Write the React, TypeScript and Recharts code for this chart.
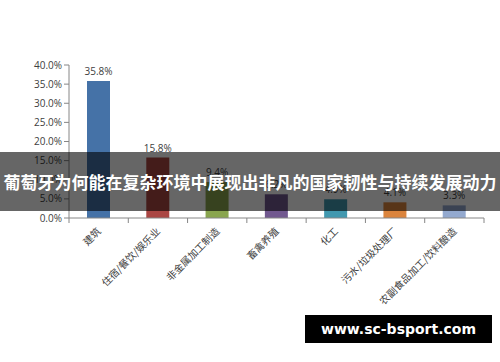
import { BarChart, Bar, XAxis, YAxis, Cell, LabelList } from "recharts";

const categories = [
  "建筑",
  "住宿/餐饮/娱乐业",
  "非金属加工制造",
  "畜禽养殖",
  "化工",
  "污水/垃圾处理厂",
  "农副食品加工/饮料酿造",
];
const shares = [35.8, 15.8, 9.4, 6.2, 4.9, 4.1, 3.3];
const barColors = ["#4572A7", "#AA4643", "#89A54E", "#71588F", "#4198AF", "#DB843D", "#93A9CF"];
const yTicks = [0, 5, 10, 15, 20, 25, 30, 35, 40];

const data = categories.map((name, i) => ({ name, value: shares[i] }));

const W = 500;
const H = 362;
const plotLeft = 69;
const plotRight = 484;
const plotBottom = 218;
const band = (plotRight - plotLeft) / categories.length;

function CategoryTick(props: any) {
  const { x, y, payload, index } = props;
  const left = x - band / 2;
  return (
    <g>
      <line x1={left} y1={plotBottom} x2={left} y2={plotBottom + 5} stroke="#868686" />
      {index === categories.length - 1 && (
        <line x1={left + band} y1={plotBottom} x2={left + band} y2={plotBottom + 5} stroke="#868686" />
      )}
      <text
        x={x + 3}
        y={y + 6}
        transform={`rotate(-45 ${x + 3} ${y + 6})`}
        textAnchor="end"
        fontSize={10}
        fill="#404040"
        fontFamily="'Noto Sans CJK SC', sans-serif"
      >
        {payload.value}
      </text>
    </g>
  );
}

export default function App() {
  return (
    <div style={{ position: "absolute", left: 0, top: 0, width: W, height: H, background: "#fff" }}>
      <BarChart
        width={W}
        height={H}
        data={data}
        margin={{ top: 65, right: W - plotRight, bottom: 0, left: 0 }}
        barCategoryGap={0}
      >
        <XAxis
          dataKey="name"
          interval={0}
          tickLine={false}
          stroke="#868686"
          tick={<CategoryTick />}
          height={H - plotBottom}
        />
        <YAxis
          width={plotLeft}
          domain={[0, 40]}
          ticks={yTicks}
          tickFormatter={(v: number) => `${v.toFixed(1)}%`}
          stroke="#868686"
          tickSize={5}
          tick={{ fontSize: 10, fill: "#404040", fontFamily: "'Open Sans', sans-serif" }}
        />
        <Bar dataKey="value" barSize={23} isAnimationActive={false}>
          {data.map((d, i) => (
            <Cell key={d.name} fill={barColors[i]} />
          ))}
          <LabelList
            dataKey="value"
            position="top"
            offset={6}
            formatter={(v: any) => `${Number(v).toFixed(1)}%`}
            style={{ fontSize: 10, fill: "#404040", fontFamily: "'Open Sans', sans-serif" }}
          />
        </Bar>
      </BarChart>
      <div
        style={{
          position: "absolute",
          left: 0,
          top: 152,
          width: W,
          height: 59,
          background: "rgba(0,0,0,0.6)",
          color: "#fff",
          fontFamily: "'Noto Sans CJK SC', sans-serif",
          fontWeight: 700,
          fontSize: 17,
          lineHeight: "59px",
          textAlign: "center",
          whiteSpace: "nowrap",
        }}
      >
        葡萄牙为何能在复杂环境中展现出非凡的国家韧性与持续发展动力
      </div>
      <div
        style={{
          position: "absolute",
          left: 305,
          top: 315,
          width: 187,
          height: 28,
          background: "#000",
          color: "#fff",
          fontFamily: "'DejaVu Sans', sans-serif",
          fontWeight: 700,
          fontSize: 14,
          lineHeight: "28px",
          textAlign: "center",
        }}
      >
        www.sc-bsport.com
      </div>
    </div>
  );
}
